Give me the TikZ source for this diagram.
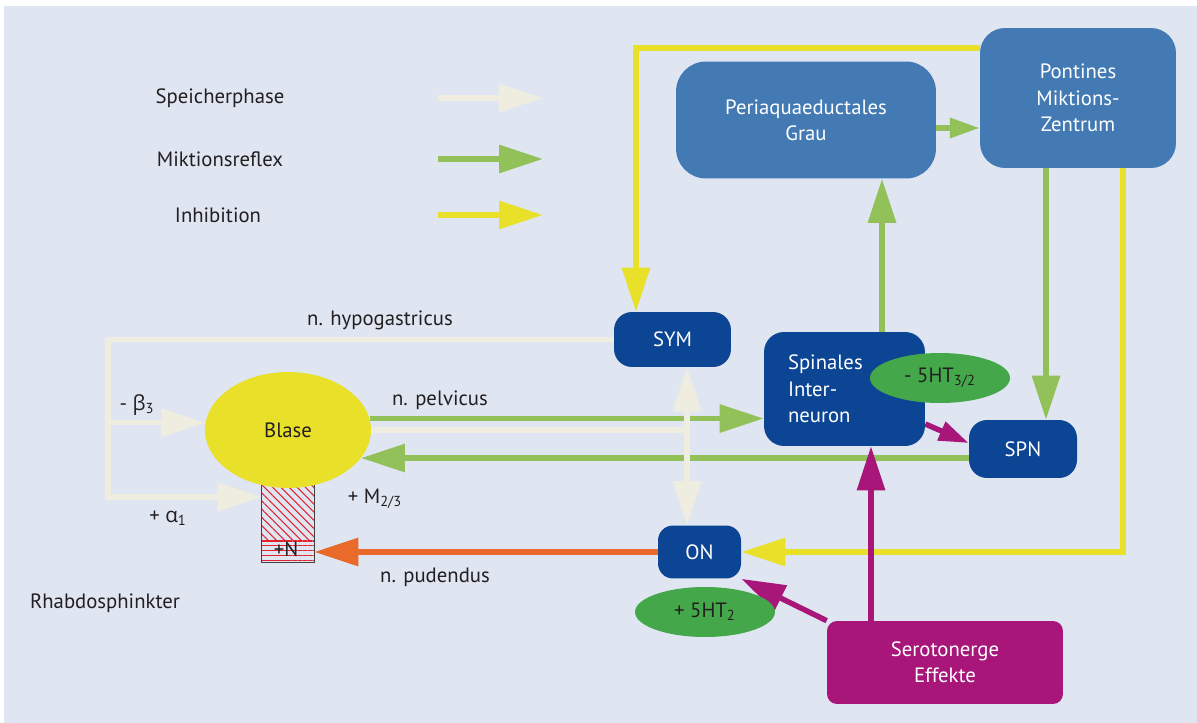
\documentclass[tikz,border=0pt]{standalone}
\usepackage{fontspec}
\setmainfont{PT Sans}
\newfontfamily\grk{Open Sans}
\usetikzlibrary{arrows.meta,shapes.geometric,patterns.meta,backgrounds}
\definecolor{hinter}{HTML}{DFE6F2}
\definecolor{creme}{HTML}{EEEDE0}
\definecolor{gruen}{HTML}{92C15A}
\definecolor{gelb}{HTML}{E9E02A}
\definecolor{hellblau}{HTML}{437AB4}
\definecolor{dunkelblau}{HTML}{0C4594}
\definecolor{blattgruen}{HTML}{44A84A}
\definecolor{lila}{HTML}{A8167A}
\definecolor{orangerot}{HTML}{E96A2A}
\definecolor{schrift}{HTML}{231F20}
\definecolor{streifen}{HTML}{E3202E}

\begin{document}
\begin{tikzpicture}[x=0.02cm,y=-0.02cm,
  font=\fontsize{11.8}{15}\selectfont, text=schrift,
  kasten/.style={rectangle,rounded corners=#1,inner sep=0pt,text=white,align=center},
  hell/.style={kasten=0.6cm,fill=hellblau},
  dunkel/.style={kasten=0.36cm,fill=dunkelblau},
  oval/.style={ellipse,inner sep=0pt,fill=blattgruen,minimum width=2.8cm,minimum height=1cm},
  pfeil/.style={line width=3.1pt,-{Triangle[length=25pt,width=15.5pt]}},
  kurzpfeil/.style={line width=3.1pt,-{Triangle[length=17pt,width=11pt]}},
  speicherpf/.style={pfeil,creme},
  reflexpf/.style={pfeil,gruen},
  hemmpf/.style={pfeil,gelb}]
  \useasboundingbox (0,0) rectangle (1197,723);

  % Zentren
  \node[hell,minimum width=5.2cm,minimum height=2.34cm] (pag) at (806,120) {Periaquaeductales\\Grau};
  \node[hell,kasten=0.5cm,minimum width=3.92cm,minimum height=2.8cm] (pmc) at (1078,98) {Pontines\\Miktions-\\Zentrum};
  \node[dunkel,minimum width=2.34cm,minimum height=1.1cm] (sym) at (672.5,339.5) {SYM};
  \node[dunkel,kasten=0.4cm,minimum width=3.22cm,minimum height=2.28cm,text width=2.26cm,align=left] (inter) at (844.5,389) {Spinales\\Inter-\\neuron};
  \node[oval] (ht32) at (940,378) {- 5HT\textsubscript{3/2}};
  \node[dunkel,minimum width=2.16cm,minimum height=1.16cm] (spn) at (1023,449) {SPN};
  \node[dunkel,kasten=0.3cm,minimum width=1.66cm,minimum height=1.06cm] (on) at (699.5,552) {ON};
  \node[oval] (ht2) at (705,612) {+ 5HT\textsubscript{2}};
  \node[kasten=0.2cm,fill=lila,minimum width=4.72cm,minimum height=1.66cm] (sero) at (945,662.5) {Serotonerge\\Effekte};

  % Blase und Rhabdosphinkter
  \node[inner sep=0pt,minimum width=1.04cm,minimum height=1.84cm] (sph) at (288,516) {};
  \fill[pattern={Lines[angle=-45,distance=3.3pt,line width=0.6pt]},pattern color=streifen]
    (sph.north west) rectangle (sph.east |- 0,539);
  \fill[pattern={Lines[angle=0,distance=2.8pt,line width=0.6pt]},pattern color=streifen]
    (sph.west |- 0,539) rectangle (sph.south east);
  \draw[line width=0.6pt,black!75] (sph.north west) rectangle (sph.south east);
  \node (n) at (286,549) {+N};
  \node[ellipse,inner sep=0pt,fill=gelb,minimum width=3.32cm,minimum height=2.32cm] (blase) at (288,430) {Blase};

  % Legende
  \node (speicher) at (220,98) {Speicherphase};
  \node (reflex) at (220,159) {Miktionsreflex};
  \node (inhib) at (218,215) {Inhibition};
  \coordinate (speicher a) at (438,98);  \coordinate (speicher b) at (543,98);
  \coordinate (reflex a) at (438,159);   \coordinate (reflex b) at (543,159);
  \coordinate (inhib a) at (438,215);    \coordinate (inhib b) at (543,215);

  % Beschriftungen
  \node (hypo) at (380,320) {n. hypogastricus};
  \node (pelv) at (440,400) {n. pelvicus};
  \node (pud) at (435,577) {n. pudendus};
  \node (beta) at (137,405) {- {\grk β}\textsubscript{3}};
  \node (alpha) at (168,518) {+ {\grk α}\textsubscript{1}};
  \node (musk) at (375,499) {+ M\textsubscript{2/3}};
  \node (rhabdo) at (105,603) {Rhabdosphinkter};

  \coordinate (hyp) at (108,497);
  \coordinate (knoten) at (687,430);

  \begin{scope}[on background layer]
    \fill[hinter] (4,6) rectangle (1197,723);
    \draw[speicherpf] (speicher a) -- (speicher b);
    \draw[reflexpf] (reflex a) -- (reflex b);
    \draw[hemmpf] (inhib a) -- (inhib b);
    % Inhibition
    \draw[hemmpf] (pmc.west |- 0,48) -| (636,0 |- sym.north);
    \draw[hemmpf] (pmc.south -| 1123,0) |- (on.east);
    % Miktionsreflex
    \draw[gruen,kurzpfeil] (pag.east |- 0,128) -- (pmc.west |- 0,128);
    \draw[reflexpf] (inter.north -| 882,0) -- (pag.south -| 882,0);
    \draw[reflexpf] (pmc.south -| 1046,0) -- (spn.north -| 1046,0);
    \draw[reflexpf] (blase.8) -- (inter.west |- blase.8);
    \draw[reflexpf] (spn.west |- blase.-21) -- (blase.-21);
    % Speicherphase
    \draw[speicherpf] (sym.west) -| (hyp) -- (sph.west |- hyp);
    \draw[speicherpf] (hyp |- blase.175) -- (blase.175);
    \draw[creme,line width=3.1pt] (blase.east) -- (knoten);
    \draw[speicherpf] (knoten) -- (sym.south -| knoten);
    \draw[speicherpf] (knoten) -- (on.north -| knoten);
    % n. pudendus
    \draw[pfeil,orangerot] (on.west) -- (sph.east |- on.west);
    % Serotonin
    \draw[pfeil,lila] (sero.north -| 871,0) -- (inter.south -| 871,0);
    \draw[pfeil,lila] (sero.north west) -- (on.south east);
    \draw[kurzpfeil,lila] (inter.east |- 0,424) -- (spn.west |- 0,443);
  \end{scope}
\end{tikzpicture}
\end{document}
